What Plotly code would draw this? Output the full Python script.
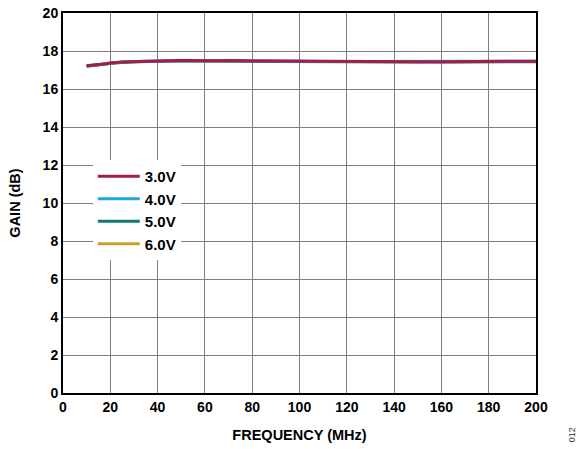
import plotly.graph_objects as go

freq = [10, 12, 15, 18, 20, 22, 25, 28, 30, 35, 40, 45, 50, 55, 60, 65, 70, 75, 80, 90, 100, 110, 120, 130, 140, 150, 160, 170, 180, 190, 200]
gain_3v = [17.22, 17.24, 17.28, 17.33, 17.37, 17.40, 17.42, 17.44, 17.45, 17.46, 17.48, 17.49, 17.50, 17.49, 17.50, 17.49, 17.50, 17.48, 17.48, 17.47, 17.46, 17.46, 17.45, 17.45, 17.45, 17.44, 17.44, 17.45, 17.45, 17.46, 17.46]
gain_4v = [17.22, 17.23, 17.28, 17.33, 17.36, 17.40, 17.42, 17.43, 17.45, 17.46, 17.47, 17.49, 17.49, 17.49, 17.50, 17.49, 17.49, 17.48, 17.48, 17.47, 17.46, 17.45, 17.45, 17.45, 17.44, 17.44, 17.44, 17.44, 17.45, 17.45, 17.46]
gain_5v = [17.20, 17.22, 17.26, 17.31, 17.35, 17.38, 17.40, 17.42, 17.43, 17.44, 17.46, 17.47, 17.48, 17.47, 17.48, 17.47, 17.48, 17.46, 17.46, 17.45, 17.44, 17.44, 17.43, 17.43, 17.43, 17.42, 17.42, 17.43, 17.43, 17.44, 17.44]
gain_6v = [17.21, 17.23, 17.27, 17.32, 17.36, 17.39, 17.41, 17.43, 17.44, 17.45, 17.47, 17.48, 17.49, 17.48, 17.49, 17.48, 17.49, 17.47, 17.47, 17.46, 17.45, 17.45, 17.44, 17.44, 17.44, 17.43, 17.43, 17.44, 17.44, 17.45, 17.45]

series_names = ["3.0V", "4.0V", "5.0V", "6.0V"]
series_vals = [gain_3v, gain_4v, gain_5v, gain_6v]
colors = ["#A51C4A", "#1AA7DD", "#0F7B77", "#C9A130"]

x_ticks = list(range(0, 201, 20))
y_ticks = list(range(0, 21, 2))

fig = go.Figure()
for name, vals, col in reversed(list(zip(series_names, series_vals, colors))):
    fig.add_trace(go.Scatter(x=freq, y=vals, mode="lines", name=name,
                             line=dict(color=col, width=3)))

font_main = "Liberation Sans, Arial, sans-serif"
fig.update_layout(
    width=582, height=449,
    margin=dict(l=63, r=46, t=13, b=56, autoexpand=False),
    paper_bgcolor="white", plot_bgcolor="white",
    font=dict(family=font_main, size=14, color="black"),
    showlegend=True,
    legend=dict(x=0.063, y=0.613, xanchor="left", yanchor="top",
                bgcolor="white", borderwidth=0, traceorder="reversed",
                font=dict(size=15, family=font_main, weight="bold"),
                itemwidth=42, tracegroupgap=0),
    xaxis=dict(range=[0, 200], tickvals=x_ticks, ticktext=[str(t) for t in x_ticks],
               showgrid=True, gridcolor="#7f7f7f", gridwidth=1.3,
               showline=True, linecolor="black", linewidth=2, mirror=True,
               ticks="", tickfont=dict(size=14, weight="bold"),
               title=dict(text="<b>FREQUENCY (MHz)</b>", font=dict(size=14.5), standoff=16),
               zeroline=False, automargin=False),
    yaxis=dict(range=[0, 20], tickvals=y_ticks, ticktext=[str(t) for t in y_ticks],
               showgrid=True, gridcolor="#7f7f7f", gridwidth=1.3,
               showline=True, linecolor="black", linewidth=2, mirror=True,
               ticks="", tickfont=dict(size=14, weight="bold"),
               title=dict(text="<b>GAIN (dB)</b>", font=dict(size=14.5), standoff=19),
               zeroline=False, automargin=False),
)
fig.add_annotation(text="012", xref="paper", yref="paper", x=1.09, y=-0.135,
                   textangle=-90, showarrow=False, font=dict(size=9, color="#333"))

fig.write_html("out.html", config={"displayModeBar": False},
               post_script="document.body.style.margin='0';document.body.style.overflow='hidden';")
